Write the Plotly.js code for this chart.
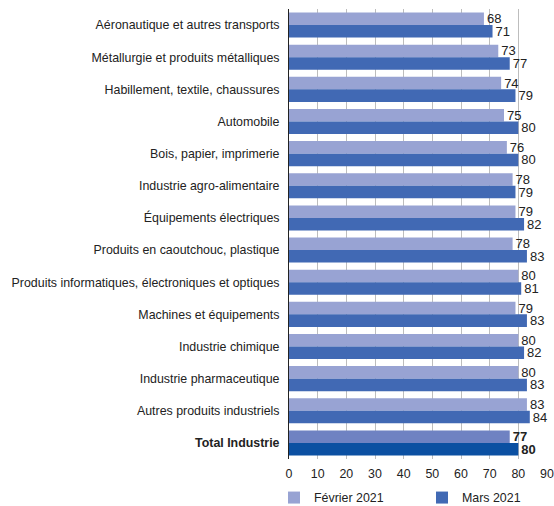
<!DOCTYPE html>
<html>
<head>
<meta charset="utf-8">
<script src="https://cdn.plot.ly/plotly-3.0.1.min.js"></script>
<style>html,body{margin:0;padding:0;background:#fff;}#chart{width:554px;height:506px;}</style>
</head>
<body>
<div id="chart"></div>
<script>
var categories = [
  "Aéronautique et autres transports",
  "Métallurgie et produits métalliques",
  "Habillement, textile, chaussures",
  "Automobile",
  "Bois, papier, imprimerie",
  "Industrie agro-alimentaire",
  "Équipements électriques",
  "Produits en caoutchouc, plastique",
  "Produits informatiques, électroniques et optiques",
  "Machines et équipements",
  "Industrie chimique",
  "Industrie pharmaceutique",
  "Autres produits industriels",
  "<b>Total Industrie</b>"
];
var fevrier = [68, 73, 74, 75, 76, 78, 79, 78, 80, 79, 80, 80, 83, 77];
var mars    = [71, 77, 79, 80, 80, 79, 82, 83, 81, 83, 82, 83, 84, 80];
var seriesNames = ["Février 2021", "Mars 2021"];
var xTicks = [0, 10, 20, 30, 40, 50, 60, 70, 80, 90];

var n = categories.length;
function colors(base, total) {
  return categories.map(function (c, i) { return i === n - 1 ? total : base; });
}
function labels(vals) {
  return vals.map(function (v, i) { return i === n - 1 ? "<b>" + v + "</b>" : String(v); });
}
var valFont = { family: "Liberation Sans, Arial, sans-serif", size: 13, color: "#222" };

var traces = [
  {
    type: "bar", orientation: "h", name: seriesNames[0], legend: "legend",
    y: categories, x: fevrier,
    marker: { color: colors("#98A3D3", "#6F82C2") },
    text: labels(fevrier), textposition: "outside", constraintext: "none",
    textfont: valFont, outsidetextfont: valFont,
    cliponaxis: false, hoverinfo: "x+y"
  },
  {
    type: "bar", orientation: "h", name: seriesNames[1], legend: "legend2",
    y: categories, x: mars,
    marker: { color: colors("#4169B4", "#0B50A2") },
    text: labels(mars), textposition: "outside", constraintext: "none",
    textfont: valFont, outsidetextfont: valFont,
    cliponaxis: false, hoverinfo: "x+y"
  }
];

function legendAt(xc) {
  return {
    orientation: "h", xref: "container", x: xc, xanchor: "left",
    yref: "container", y: 8 / 506, yanchor: "middle",
    font: { size: 12.4, color: "#222" }, bgcolor: "rgba(0,0,0,0)"
  };
}

var layout = {
  width: 554, height: 506,
  margin: { l: 289, r: 7, t: 9, b: 47, autoexpand: false },
  paper_bgcolor: "#fff", plot_bgcolor: "#fff",
  font: { family: "Liberation Sans, Arial, sans-serif", size: 12.4, color: "#222" },
  barmode: "group", bargap: 0.22, bargroupgap: 0,
  showlegend: true,
  legend: legendAt(274 / 554),
  legend2: legendAt(422 / 554),
  xaxis: {
    range: [0, 90], tickvals: xTicks, ticktext: xTicks.map(String),
    showgrid: true, gridcolor: "#BDBDBD", gridwidth: 1,
    zeroline: false, showline: false, ticks: "", ticklabelstandoff: 6,
    tickfont: { size: 12.4, color: "#222" }
  },
  yaxis: {
    type: "category", categoryorder: "array", categoryarray: categories,
    autorange: "reversed",
    showline: true, linecolor: "#222", linewidth: 1,
    ticks: "", ticklabelstandoff: 6,
    tickfont: { size: 12.4, color: "#222" },
    showgrid: false, zeroline: false
  }
};

Plotly.newPlot("chart", traces, layout, { displayModeBar: false, staticPlot: true });
</script>
</body>
</html>
